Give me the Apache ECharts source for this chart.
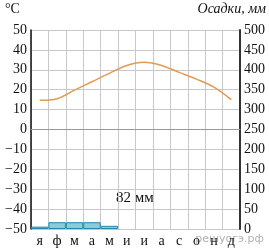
<!DOCTYPE html>
<html><head><meta charset="utf-8">
<script src="https://cdn.jsdelivr.net/npm/echarts@6/dist/echarts.min.js"></script>
<style>html,body{margin:0;padding:0;background:#fff}#c{width:269px;height:248px}</style>
</head><body><div id="c"></div>
<script>
const months = ['я','ф','м','а','м','и','и','а','с','о','н','д'];
const temperature = [14.7, 15.5, 19.8, 24.0, 28.2, 32.2, 33.8, 32.2, 28.7, 25.3, 21.3, 15.0];
const precipitation = [6, 17, 17, 17, 8, 0, 0, 0, 0, 0, 0, 0];
const tempTicks = {min: -50, max: 50, interval: 10};
const precTicks = {min: 0, max: 500, interval: 50};
const totalLabel = '82 мм';

const serif = 'Liberation Serif';
const chart = echarts.init(document.getElementById('c'));
chart.setOption({
  animation: false,
  grid: {left: 31, right: 29, top: 30, bottom: 19, containLabel: false},
  xAxis: {
    type: 'category', data: months, boundaryGap: true,
    axisLine: {show: true, lineStyle: {color: '#999', width: 1}},
    axisTick: {show: false},
    axisLabel: {color: '#111', fontFamily: serif, fontSize: 14, margin: 5},
    splitLine: {show: true, lineStyle: {color: '#c8c8c8', width: 1}}
  },
  yAxis: [
    {type: 'value', min: tempTicks.min, max: tempTicks.max, interval: tempTicks.interval,
     axisLine: {show: true, lineStyle: {color: '#111', width: 1.5}},
     axisTick: {show: false},
     axisLabel: {color: '#111', fontFamily: serif, fontSize: 14, margin: 4,
       formatter: v => v < 0 ? '\u2212' + Math.abs(v) : String(v)},
     splitLine: {show: true, lineStyle: {color: '#c8c8c8', width: 1}}},
    {type: 'value', min: precTicks.min, max: precTicks.max, interval: precTicks.interval,
     position: 'right',
     axisLine: {show: true, lineStyle: {color: '#333', width: 2}},
     axisTick: {show: false},
     axisLabel: {color: '#111', fontFamily: serif, fontSize: 14, margin: 4},
     splitLine: {show: false}}
  ],
  series: [
    {type: 'bar', yAxisIndex: 1, data: precipitation.map(v => v > 0 ? v : '-'), barWidth: '100%', barGap: '0%',
     itemStyle: {color: '#8ecadb', borderColor: '#1f8aa8', borderWidth: 1}},
    {type: 'line', yAxisIndex: 0, data: temperature, smooth: 0.35, symbol: 'none',
     lineStyle: {color: '#e39a55', width: 1.5}}
  ],
  graphic: [
    {type: 'text', left: 5, top: 2, style: {text: '°C', font: '14px "Liberation Serif"', fill: '#111'}},
    {type: 'text', right: 3, top: 2, style: {text: 'Осадки, мм', font: 'italic 14px "Liberation Serif"', fill: '#111'}},
    {type: 'text', left: 116, top: 191, style: {text: totalLabel, font: '15px "Liberation Serif"', fill: '#111'}},
    {type: 'text', right: 5, top: 234, style: {text: 'решуогэ.рф', font: '11px "DejaVu Sans"', fill: '#b0b0b0'}}
  ]
});
</script></body></html>
